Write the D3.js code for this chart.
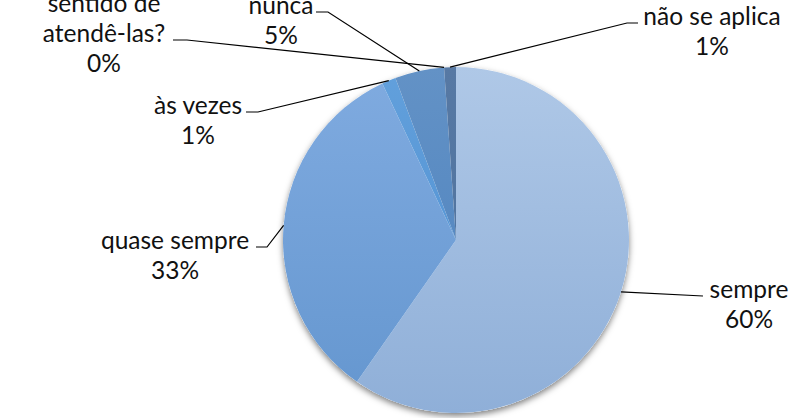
<!DOCTYPE html>
<html>
<head>
<meta charset="utf-8">
<script src="https://cdn.jsdelivr.net/npm/d3@7"></script>
<style>
  body { margin: 0; background: #fff; }
  text { font-family: Lato, "Liberation Sans", sans-serif; font-size: 24.5px; fill: #111; }
</style>
</head>
<body>
<div id="chart"></div>
<script>
// data
var categories = ["sempre", "quase sempre", "às vezes", "nunca", "sentido de\natendê-las?", "não se aplica"];
var values = [59.7, 33.3, 1.3, 4.6, 0, 1.1];
var pctLabels = ["60%", "33%", "1%", "5%", "0%", "1%"];

// colours (top, bottom of gradient)
var colTop = ["#afc8e7", "#80abe0", "#62a0dc", "#6392c6", "#5a7fae", "#5779a4"];
var colBot = ["#8fafd8", "#6496cf", "#4d8dcf", "#4a80bd", "#4c72a0", "#4c709c"];

// label layout: text centre x, centre y of the name's last line, elbow end x, elbow start x
var labelPos = [
  {x: 749, y: 290, ex: 703, sx: 703},
  {x: 175, y: 241, ex: 256, sx: 267},
  {x: 198, y: 106, ex: 246, sx: 258},
  {x: 281, y: 6,   ex: 316, sx: 328},
  {x: 104, y: 34,  ex: 173, sx: 187},
  {x: 712, y: 17,  ex: 638, sx: 627}
];

var width = 805, height = 418,
    cx = 456, cy = 240, radius = 173;

var svg = d3.select("#chart").append("svg")
    .attr("width", width)
    .attr("height", height);

var defs = svg.append("defs");
var shadow = defs.append("filter").attr("id", "shadow")
    .attr("x", "-20%").attr("y", "-20%").attr("width", "140%").attr("height", "140%");
shadow.append("feDropShadow")
    .attr("dx", 0).attr("dy", 3).attr("stdDeviation", 3)
    .attr("flood-color", "#000").attr("flood-opacity", 0.5);

categories.forEach(function(c, i) {
  var g = defs.append("linearGradient").attr("id", "grad" + i)
      .attr("gradientUnits", "userSpaceOnUse")
      .attr("x1", 0).attr("y1", -radius).attr("x2", 0).attr("y2", radius);
  g.append("stop").attr("offset", "0%").attr("stop-color", colTop[i]);
  g.append("stop").attr("offset", "100%").attr("stop-color", colBot[i]);
});

var data = categories.map(function(c, i) { return {name: c, value: values[i], pct: pctLabels[i], i: i}; });

var pie = d3.pie().sort(null).value(function(d) { return d.value; });
var arcs = pie(data);

var arc = d3.arc().innerRadius(0).outerRadius(radius);
var edge = d3.arc().innerRadius(radius).outerRadius(radius);

var g = svg.append("g").attr("transform", "translate(" + cx + "," + cy + ")");

// shadow disc under the pie
g.append("circle").attr("r", radius).attr("fill", "#fff").attr("filter", "url(#shadow)");

g.selectAll("path.slice")
  .data(arcs)
  .enter().append("path")
    .attr("class", "slice")
    .attr("d", arc)
    .attr("fill", function(d) { return "url(#grad" + d.data.i + ")"; });

// leader lines
svg.append("g").selectAll("polyline")
  .data(arcs)
  .enter().append("polyline")
    .attr("fill", "none")
    .attr("stroke", "#000")
    .attr("stroke-width", 1.2)
    .attr("points", function(d) {
      var p = edge.centroid(d), lp = labelPos[d.data.i];
      var ly = lp.y + 6;
      return [[cx + p[0], cy + p[1]], [lp.sx, ly], [lp.ex, ly]].map(function(q) { return q.join(","); }).join(" ");
    });

// labels
var labels = svg.append("g").selectAll("text")
  .data(arcs)
  .enter().append("text")
    .attr("text-anchor", "middle");

labels.each(function(d) {
  var names = d.data.name.split("\n");
  var lines = names.concat([d.data.pct]);
  var t = d3.select(this), lp = labelPos[d.data.i];
  lines.forEach(function(l, k) {
    t.append("tspan")
      .attr("x", lp.x)
      .attr("y", lp.y + (k - (names.length - 1)) * 30 + 8)
      .text(l);
  });
});
</script>
</body>
</html>
